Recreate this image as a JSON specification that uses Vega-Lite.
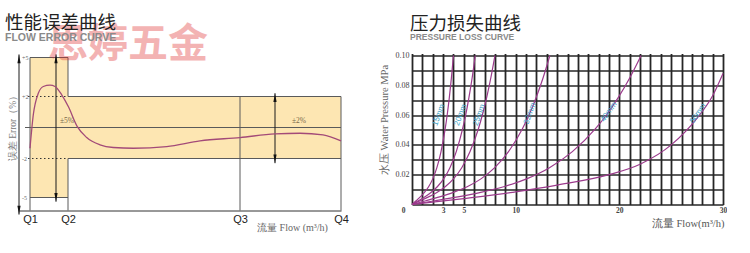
{
  "$schema": "https://vega.github.io/schema/vega-lite/v6.json",
  "background": "white",
  "padding": {"left": 5, "top": 13.5, "right": 0, "bottom": 0},
  "bounds": "flush",
  "spacing": 71,
  "config": {"view": {"stroke": null}, "font": "Liberation Sans"},
  "hconcat": [
    {
      "width": 322,
      "height": 157,
      "title": {
        "text": "性能误差曲线", "subtitle": "FLOW ERROR CURVE",
        "anchor": "start", "frame": "group", "dx": -14, "offset": -18,
        "font": "Noto Sans CJK SC", "fontSize": 18.5, "fontWeight": "normal", "color": "#222222",
        "subtitleFont": "Liberation Sans", "subtitleFontSize": 10.5, "subtitleFontWeight": "bold",
        "subtitleColor": "#8a8a8a", "subtitlePadding": 0
      },
      "encoding": {
        "x": {
          "field": "q", "type": "quantitative",
          "scale": {"domain": [-1.1, 31.1], "nice": false, "zero": false},
          "axis": {
            "values": [0, 3.8, 21, 31.1],
            "labelExpr": "datum.value < 1 ? 'Q1' : datum.value < 5 ? 'Q2' : datum.value < 25 ? 'Q3' : 'Q4'",
            "grid": false, "ticks": false, "tickSize": 0,
            "domainColor": "#333333", "domainWidth": 1,
            "labelFont": "Liberation Sans", "labelFontSize": 11, "labelColor": "#222222",
            "labelPadding": 3, "labelFlush": false, "labelOverlap": false,
            "title": "流量 Flow (m³/h)", "titleFont": "Liberation Serif", "titleFontSize": 10,
            "titleFontWeight": "normal", "titleColor": "#666666", "titleX": 273, "titleY": 12
          }
        },
        "y": {
          "field": "e", "type": "quantitative",
          "scale": {"domain": [-5.93, -5, -2, 2, 5, 5.29], "range": [157, 144, 105, 43, 4, 0], "nice": false, "zero": false},
          "axis": {
            "domain": false, "ticks": false, "labels": false, "grid": false,
            "title": "误差 Error（%）", "titleFont": "Liberation Serif", "titleFontSize": 9.5,
            "titleFontWeight": "normal", "titleColor": "#777777", "titlePadding": 2, "titleY": 72
          }
        }
      },
      "layer": [
        {
          "data": {"values": [
            {"q": 0, "q2": 3.8, "e": -5, "e2": 5},
            {"q": 3.8, "q2": 31.1, "e": -2, "e2": 2}
          ]},
          "mark": {"type": "rect", "fill": "#fde6b2"},
          "encoding": {"x2": {"field": "q2"}, "y2": {"field": "e2"}}
        },
        {
          "data": {"values": [
            {"q": 0, "q2": 3.8, "e": 5, "e2": 5},
            {"q": 0, "q2": 3.8, "e": -5, "e2": -5},
            {"q": 0, "q2": 0, "e": -5.93, "e2": 5},
            {"q": 3.8, "q2": 3.8, "e": 2, "e2": 5},
            {"q": 3.8, "q2": 3.8, "e": -5.93, "e2": -2},
            {"q": 3.8, "q2": 31.1, "e": 2, "e2": 2},
            {"q": 3.8, "q2": 31.1, "e": -2, "e2": -2},
            {"q": 21, "q2": 21, "e": -5.93, "e2": 2},
            {"q": 31.1, "q2": 31.1, "e": -5.93, "e2": 2},
            {"q": -0.5, "q2": 31.1, "e": 0, "e2": 0}
          ]},
          "mark": {"type": "rule", "color": "#5a5a5a", "strokeWidth": 1},
          "encoding": {"x2": {"field": "q2"}, "y2": {"field": "e2"}}
        },
        {
          "data": {"values": [
            {"q": -0.2, "q2": 3.8, "e": 2, "e2": 2},
            {"q": -0.2, "q2": 3.8, "e": -2, "e2": -2}
          ]},
          "mark": {"type": "rule", "color": "#333333", "strokeWidth": 1.2, "strokeDash": [1.5, 2.5]},
          "encoding": {"x2": {"field": "q2"}, "y2": {"field": "e2"}}
        },
        {
          "data": {"values": [
            {"q": -1.1, "q2": -1.1, "e": -6.22, "e2": 5.22},
            {"q": 2.6, "q2": 2.6, "e": -5.3, "e2": 5.23},
            {"q": 24.5, "q2": 24.5, "e": -2.36, "e2": 2.25}
          ]},
          "mark": {"type": "rule", "color": "#1a1a1a", "strokeWidth": 1},
          "encoding": {"x2": {"field": "q2"}, "y2": {"field": "e2"}}
        },
        {
          "data": {"values": [
            {"q": 0, "e": -1.34}, {"q": 0.33, "e": 0.82}, {"q": 0.83, "e": 2.25},
            {"q": 1.33, "e": 2.77}, {"q": 2.0, "e": 2.87}, {"q": 2.5, "e": 2.77},
            {"q": 3.17, "e": 2.13}, {"q": 3.83, "e": 1.35}, {"q": 4.73, "e": 0.06},
            {"q": 5.67, "e": -0.65}, {"q": 7.0, "e": -1.12}, {"q": 8.33, "e": -1.29},
            {"q": 10.33, "e": -1.34}, {"q": 13.67, "e": -1.23}, {"q": 17.0, "e": -0.86},
            {"q": 21.0, "e": -0.65}, {"q": 24.5, "e": -0.41}, {"q": 27.0, "e": -0.37},
            {"q": 29.3, "e": -0.47}, {"q": 31.1, "e": -0.86}
          ]},
          "mark": {"type": "line", "color": "#a34a78", "strokeWidth": 1.3, "interpolate": "monotone"}
        },
        {
          "data": {"values": [
            {"q": 2.6, "e": 5.23}, {"q": 24.5, "e": 2.25}, {"q": -1.1, "e": 5.22}
          ]},
          "mark": {"type": "point", "shape": "M0,0L0.4,2.2L-0.4,2.2Z", "size": 64, "filled": true, "color": "#111111", "opacity": 1, "strokeWidth": 0}
        },
        {
          "data": {"values": [
            {"q": 2.6, "e": -5.3}, {"q": 24.5, "e": -2.36}, {"q": -1.1, "e": -6.22}
          ]},
          "mark": {"type": "point", "shape": "M0,0L0.4,-2.2L-0.4,-2.2Z", "size": 64, "filled": true, "color": "#111111", "opacity": 1, "strokeWidth": 0}
        },
        {
          "data": {"values": [
            {"q": -0.8, "e": 5, "t": "+5"}, {"q": -0.8, "e": 2, "t": "+2"},
            {"q": -0.8, "e": -2, "t": "-2"}, {"q": -0.8, "e": -5, "t": "-5"}
          ]},
          "mark": {"type": "text", "align": "left", "baseline": "middle", "fontSize": 6, "color": "#666666", "font": "Liberation Serif"},
          "encoding": {"text": {"field": "t"}}
        },
        {
          "data": {"values": [
            {"q": 3.7, "e": 0.43, "t": "±5%"}, {"q": 26.9, "e": 0.43, "t": "±2%"}
          ]},
          "mark": {"type": "text", "align": "center", "baseline": "middle", "fontSize": 7.5, "color": "#7a6a4a", "font": "Liberation Serif"},
          "encoding": {"text": {"field": "t"}}
        },
        {
          "data": {"values": [{"q": 9.8, "e": 5.9, "t": "思婷五金"}]},
          "mark": {"type": "text", "align": "center", "baseline": "middle", "fontSize": 40, "fontWeight": "bold", "font": "Noto Sans CJK SC", "color": "#e03030", "opacity": 0.36},
          "encoding": {"text": {"field": "t"}}
        }
      ]
    },
    {
      "width": 311,
      "height": 151,
      "title": {
        "text": "压力损失曲线", "subtitle": "PRESSURE LOSS CURVE",
        "anchor": "start", "frame": "group", "dx": -2, "offset": 9.5,
        "font": "Noto Sans CJK SC", "fontSize": 18.5, "fontWeight": "normal", "color": "#222222",
        "subtitleFont": "Liberation Sans", "subtitleFontSize": 8.5, "subtitleFontWeight": "bold",
        "subtitleColor": "#8a8a8a", "subtitlePadding": 0
      },
      "encoding": {
        "x": {
          "field": "q", "type": "quantitative",
          "scale": {"domain": [0, 30], "nice": false, "zero": false},
          "axis": {
            "values": [0,1,2,3,4,5,6,7,8,9,10,11,12,13,14,15,16,17,18,19,20,21,22,23,24,25,26,27,28,29,30],
            "grid": true, "gridColor": "#262626", "gridWidth": 1.8, "gridOpacity": 1,
            "domain": false, "ticks": false, "tickSize": 0,
            "labelExpr": "indexof([0,3,5,10,20,30], datum.value) >= 0 ? datum.label : ''",
            "labelOffset": {"condition": {"test": "datum.value == 0", "value": -9}, "value": 0},
            "labelFont": "Liberation Serif", "labelFontSize": 7.5, "labelFontWeight": "bold",
            "labelColor": "#444444", "labelPadding": 2, "labelFlush": false, "labelOverlap": false,
            "title": "流量 Flow(m³/h)", "titleFont": "Liberation Serif", "titleFontSize": 10.5,
            "titleFontWeight": "normal", "titleColor": "#555555", "titleX": 312, "titleY": 14, "titleAlign": "right"
          }
        },
        "y": {
          "field": "p", "type": "quantitative",
          "scale": {"domain": [0, 0.10134], "nice": false, "zero": true},
          "axis": {
            "values": [0, 0.01, 0.02, 0.03, 0.04, 0.05, 0.06, 0.07, 0.08, 0.09, 0.1],
            "grid": true, "gridColor": "#262626", "gridWidth": 1.5, "gridOpacity": 1,
            "domain": false, "ticks": false, "tickSize": 0,
            "labelExpr": "datum.value > 0.001 && round(datum.value * 100) % 2 == 0 ? format(datum.value, '.2f') : ''",
            "labelFont": "Liberation Serif", "labelFontSize": 8, "labelColor": "#444444",
            "labelPadding": 3, "labelOverlap": false,
            "title": "水压 Water Pressure MPa", "titleFont": "Liberation Serif", "titleFontSize": 10.5,
            "titleFontWeight": "normal", "titleColor": "#666666", "titleY": 66, "titlePadding": 6
          }
        }
      },
      "layer": [
        {
          "data": {"values": [
            {"p": 0.09, "p2": 0.10, "c": "o"},
            {"p": 0.07, "p2": 0.08, "c": "g"},
            {"p": 0.05, "p2": 0.06, "c": "t"},
            {"p": 0.03, "p2": 0.04, "c": "o"},
            {"p": 0.01, "p2": 0.02, "c": "g"}
          ]},
          "mark": {"type": "rect", "blend": "multiply"},
          "encoding": {
            "x": {"datum": 0}, "x2": {"datum": 30},
            "y2": {"field": "p2"},
            "color": {"field": "c", "type": "nominal", "scale": {"domain": ["o", "g", "t"], "range": ["#fde8b4", "#d5ebd3", "#dcefe6"]}, "legend": null}
          }
        },
        {
          "data": {"values": [
            {"pipe": "15", "q": 0, "p": 0}, {"pipe": "15", "q": 0.4, "p": 0.0025}, {"pipe": "15", "q": 0.8, "p": 0.0051},
            {"pipe": "15", "q": 1.2, "p": 0.0081}, {"pipe": "15", "q": 1.6, "p": 0.0119}, {"pipe": "15", "q": 2.0, "p": 0.0172},
            {"pipe": "15", "q": 2.4, "p": 0.0247}, {"pipe": "15", "q": 2.8, "p": 0.0355}, {"pipe": "15", "q": 3.2, "p": 0.0507},
            {"pipe": "15", "q": 3.4, "p": 0.0604}, {"pipe": "15", "q": 3.6, "p": 0.0717}, {"pipe": "15", "q": 3.8, "p": 0.0849},
            {"pipe": "15", "q": 4.0, "p": 0.1},
            {"pipe": "20", "q": 0, "p": 0}, {"pipe": "20", "q": 0.61, "p": 0.0025}, {"pipe": "20", "q": 1.22, "p": 0.0051},
            {"pipe": "20", "q": 1.83, "p": 0.0081}, {"pipe": "20", "q": 2.44, "p": 0.0119}, {"pipe": "20", "q": 3.05, "p": 0.0172},
            {"pipe": "20", "q": 3.66, "p": 0.0247}, {"pipe": "20", "q": 4.27, "p": 0.0355}, {"pipe": "20", "q": 4.88, "p": 0.0507},
            {"pipe": "20", "q": 5.19, "p": 0.0604}, {"pipe": "20", "q": 5.49, "p": 0.0717}, {"pipe": "20", "q": 5.8, "p": 0.0849},
            {"pipe": "20", "q": 6.1, "p": 0.1},
            {"pipe": "25", "q": 0, "p": 0}, {"pipe": "25", "q": 0.8, "p": 0.0025}, {"pipe": "25", "q": 1.6, "p": 0.0051},
            {"pipe": "25", "q": 2.4, "p": 0.0081}, {"pipe": "25", "q": 3.2, "p": 0.0119}, {"pipe": "25", "q": 4.0, "p": 0.0172},
            {"pipe": "25", "q": 4.8, "p": 0.0247}, {"pipe": "25", "q": 5.6, "p": 0.0355}, {"pipe": "25", "q": 6.4, "p": 0.0507},
            {"pipe": "25", "q": 6.8, "p": 0.0604}, {"pipe": "25", "q": 7.2, "p": 0.0717}, {"pipe": "25", "q": 7.6, "p": 0.0849},
            {"pipe": "25", "q": 8.0, "p": 0.1},
            {"pipe": "32", "q": 0, "p": 0}, {"pipe": "32", "q": 1.33, "p": 0.0025}, {"pipe": "32", "q": 2.66, "p": 0.0051},
            {"pipe": "32", "q": 3.99, "p": 0.0081}, {"pipe": "32", "q": 5.32, "p": 0.0119}, {"pipe": "32", "q": 6.65, "p": 0.0172},
            {"pipe": "32", "q": 7.98, "p": 0.0247}, {"pipe": "32", "q": 9.31, "p": 0.0355}, {"pipe": "32", "q": 10.64, "p": 0.0507},
            {"pipe": "32", "q": 11.31, "p": 0.0604}, {"pipe": "32", "q": 11.97, "p": 0.0717}, {"pipe": "32", "q": 12.64, "p": 0.0849},
            {"pipe": "32", "q": 13.3, "p": 0.1},
            {"pipe": "40", "q": 0, "p": 0}, {"pipe": "40", "q": 2.21, "p": 0.0025}, {"pipe": "40", "q": 4.42, "p": 0.0051},
            {"pipe": "40", "q": 6.63, "p": 0.0081}, {"pipe": "40", "q": 8.84, "p": 0.0119}, {"pipe": "40", "q": 11.05, "p": 0.0172},
            {"pipe": "40", "q": 13.26, "p": 0.0247}, {"pipe": "40", "q": 15.47, "p": 0.0355}, {"pipe": "40", "q": 17.68, "p": 0.0507},
            {"pipe": "40", "q": 18.79, "p": 0.0604}, {"pipe": "40", "q": 19.89, "p": 0.0717}, {"pipe": "40", "q": 21.0, "p": 0.0849},
            {"pipe": "40", "q": 22.1, "p": 0.1},
            {"pipe": "50", "q": 0, "p": 0}, {"pipe": "50", "q": 5, "p": 0.004}, {"pipe": "50", "q": 10, "p": 0.0085},
            {"pipe": "50", "q": 14, "p": 0.013}, {"pipe": "50", "q": 19, "p": 0.02}, {"pipe": "50", "q": 22, "p": 0.027},
            {"pipe": "50", "q": 25, "p": 0.04}, {"pipe": "50", "q": 27.5, "p": 0.058}, {"pipe": "50", "q": 29, "p": 0.073},
            {"pipe": "50", "q": 30, "p": 0.088}
          ]},
          "mark": {"type": "line", "color": "#9b3a8c", "strokeWidth": 1.2, "interpolate": "monotone"},
          "encoding": {"detail": {"field": "pipe"}}
        },
        {
          "data": {"values": [
            {"q": 2.6, "p": 0.06, "t": "15mm"},
            {"q": 4.7, "p": 0.06, "t": "20mm"},
            {"q": 6.5, "p": 0.06, "t": "25mm"},
            {"q": 11.4, "p": 0.061, "t": "32mm"}
          ]},
          "mark": {"type": "text", "align": "center", "baseline": "middle", "fontSize": 8, "color": "#3d9fc6", "angle": -70},
          "encoding": {"text": {"field": "t"}}
        },
        {
          "data": {"values": [
            {"q": 19.0, "p": 0.062, "t": "40mm"},
            {"q": 27.6, "p": 0.061, "t": "50mm"}
          ]},
          "mark": {"type": "text", "align": "center", "baseline": "middle", "fontSize": 8, "color": "#3d9fc6", "angle": -55},
          "encoding": {"text": {"field": "t"}}
        }
      ]
    }
  ]
}
